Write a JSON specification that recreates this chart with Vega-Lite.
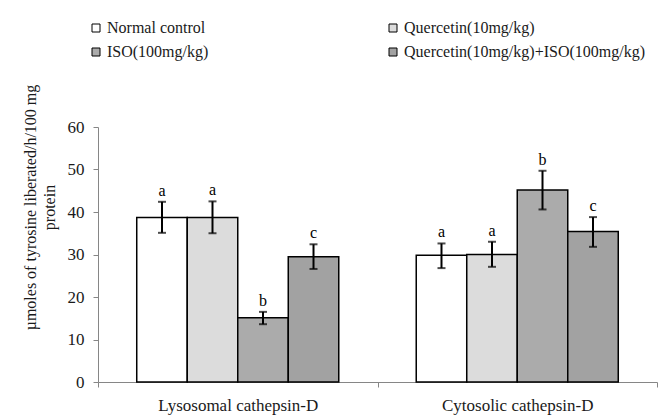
{
  "$schema": "https://vega.github.io/schema/vega-lite/v6.json",
  "autosize": "none",
  "width": 559,
  "height": 255,
  "padding": {"left": 98, "top": 127, "right": 7, "bottom": 36},
  "background": "white",
  "data": {
    "values": [
      {"group": "Lysosomal cathepsin-D", "treatment": "Normal control", "value": 38.7, "lo": 35.1, "hi": 42.4, "letter": "a"},
      {"group": "Lysosomal cathepsin-D", "treatment": "Quercetin(10mg/kg)", "value": 38.7, "lo": 35.0, "hi": 42.5, "letter": "a"},
      {"group": "Lysosomal cathepsin-D", "treatment": "ISO(100mg/kg)", "value": 15.1, "lo": 13.6, "hi": 16.5, "letter": "b"},
      {"group": "Lysosomal cathepsin-D", "treatment": "Quercetin(10mg/kg)+ISO(100mg/kg)", "value": 29.5, "lo": 26.6, "hi": 32.4, "letter": "c"},
      {"group": "Cytosolic cathepsin-D", "treatment": "Normal control", "value": 29.8, "lo": 26.8, "hi": 32.6, "letter": "a"},
      {"group": "Cytosolic cathepsin-D", "treatment": "Quercetin(10mg/kg)", "value": 30.0, "lo": 27.1, "hi": 33.0, "letter": "a"},
      {"group": "Cytosolic cathepsin-D", "treatment": "ISO(100mg/kg)", "value": 45.2, "lo": 40.6, "hi": 49.7, "letter": "b"},
      {"group": "Cytosolic cathepsin-D", "treatment": "Quercetin(10mg/kg)+ISO(100mg/kg)", "value": 35.4, "lo": 31.8, "hi": 38.8, "letter": "c"}
    ]
  },
  "encoding": {
    "x": {
      "field": "group",
      "type": "nominal",
      "sort": ["Lysosomal cathepsin-D", "Cytosolic cathepsin-D"],
      "scale": {"paddingInner": 0, "paddingOuter": 0},
      "axis": {
        "title": null,
        "labelAngle": 0,
        "tickBand": "extent",
        "tickSize": 5,
        "labelPadding": 10,
        "labelFontSize": 17
      }
    },
    "xOffset": {
      "field": "treatment",
      "type": "nominal",
      "sort": ["Normal control", "Quercetin(10mg/kg)", "ISO(100mg/kg)", "Quercetin(10mg/kg)+ISO(100mg/kg)"],
      "scale": {"paddingInner": 0, "paddingOuter": 0.767}
    }
  },
  "layer": [
    {
      "mark": {"type": "bar", "stroke": "black", "strokeWidth": 1.5},
      "encoding": {
        "y": {
          "field": "value",
          "type": "quantitative",
          "scale": {"domain": [0, 60], "nice": false},
          "axis": {
            "values": [0, 10, 20, 30, 40, 50, 60],
            "grid": false,
            "tickSize": 5,
            "labelPadding": 9,
            "labelFontSize": 17,
            "title": ["µmoles of tyrosine liberated/h/100 mg", "protein"],
            "titleFontSize": 16,
            "titleFontWeight": "normal",
            "titleLineHeight": 19,
            "titlePadding": 10,
            "titleY": 80
          }
        },
        "fill": {
          "field": "treatment",
          "type": "nominal",
          "sort": ["Normal control", "Quercetin(10mg/kg)", "ISO(100mg/kg)", "Quercetin(10mg/kg)+ISO(100mg/kg)"],
          "scale": {"range": ["#ffffff", "#dcdcdc", "#ababab", "#a2a2a2"]},
          "legend": {
            "title": null,
            "orient": "none",
            "legendX": -10,
            "legendY": -107,
            "columns": 2,
            "values": ["Normal control", "ISO(100mg/kg)", "Quercetin(10mg/kg)", "Quercetin(10mg/kg)+ISO(100mg/kg)"],
            "gridAlign": "all",
            "columnPadding": 37,
            "rowPadding": 8,
            "symbolType": "square",
            "symbolSize": 64,
            "symbolStrokeColor": "black",
            "symbolStrokeWidth": 1,
            "labelFontSize": 16,
            "labelOffset": 3,
            "labelLimit": 400,
            "padding": 0
          }
        }
      }
    },
    {
      "mark": {"type": "rule", "color": "black", "strokeWidth": 2},
      "encoding": {
        "y": {"field": "lo", "type": "quantitative"},
        "y2": {"field": "hi"}
      }
    },
    {
      "mark": {"type": "tick", "color": "black", "thickness": 2, "size": 8},
      "encoding": {
        "y": {"field": "lo", "type": "quantitative"}
      }
    },
    {
      "mark": {"type": "tick", "color": "black", "thickness": 2, "size": 8},
      "encoding": {
        "y": {"field": "hi", "type": "quantitative"}
      }
    },
    {
      "mark": {"type": "text", "baseline": "bottom", "dy": -3, "fontSize": 16, "color": "black"},
      "encoding": {
        "y": {"field": "hi", "type": "quantitative"},
        "text": {"field": "letter"}
      }
    }
  ],
  "config": {
    "font": "Liberation Serif",
    "view": {"stroke": null},
    "axis": {
      "domainColor": "#868686",
      "tickColor": "#868686",
      "labelColor": "#1a1a1a",
      "titleColor": "#1a1a1a",
      "labelFont": "Liberation Serif",
      "titleFont": "Liberation Serif"
    },
    "legend": {"labelFont": "Liberation Serif", "labelColor": "#1a1a1a"}
  }
}
